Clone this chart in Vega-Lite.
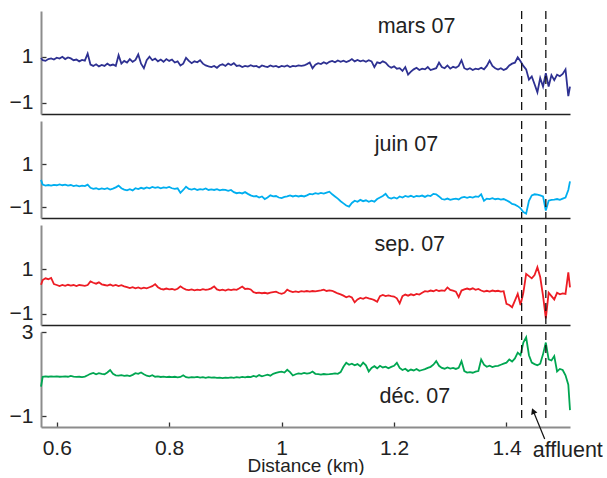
{
"$schema": "https://vega.github.io/schema/vega-lite/v6.json",
"padding": {"left": 9, "top": 10, "right": 0, "bottom": 0},
"bounds": "flush",
"spacing": 7,
"config": {"view": {"stroke": null}, "axis": {"grid": false, "labelFont": "Liberation Sans", "titleFont": "Liberation Sans", "labelColor": "#222", "titleColor": "#222"}, "text": {"font": "Liberation Sans", "color": "#222"}},
"datasets": {"d": [
{"x":0.572,"m":0.95,"j":0.27,"s":0.31,"c":0.41},
{"x":0.575,"m":0.85,"j":0.05,"s":0.52,"c":0.88},
{"x":0.580,"m":0.82,"j":0.0,"s":0.6,"c":0.9},
{"x":0.585,"m":0.9,"j":0.03,"s":0.56,"c":0.88},
{"x":0.590,"m":0.93,"j":0.0,"s":0.62,"c":0.9},
{"x":0.595,"m":0.88,"j":0.04,"s":0.34,"c":0.89},
{"x":0.600,"m":0.96,"j":0.02,"s":0.3,"c":0.9},
{"x":0.605,"m":0.92,"j":0.06,"s":0.25,"c":0.88},
{"x":0.610,"m":1.0,"j":0.02,"s":0.3,"c":0.89},
{"x":0.615,"m":0.9,"j":0.05,"s":0.26,"c":0.9},
{"x":0.620,"m":0.97,"j":0.0,"s":0.31,"c":0.88},
{"x":0.625,"m":0.93,"j":0.03,"s":0.27,"c":0.92},
{"x":0.630,"m":0.85,"j":-0.02,"s":0.3,"c":0.89},
{"x":0.635,"m":0.88,"j":0.01,"s":0.25,"c":0.87},
{"x":0.640,"m":0.8,"j":-0.03,"s":0.3,"c":0.88},
{"x":0.645,"m":0.86,"j":0.0,"s":0.28,"c":0.86},
{"x":0.650,"m":0.83,"j":-0.02,"s":0.26,"c":0.89},
{"x":0.655,"m":1.14,"j":0.05,"s":0.3,"c":0.95},
{"x":0.660,"m":0.66,"j":-0.1,"s":0.46,"c":1.02},
{"x":0.665,"m":0.6,"j":-0.15,"s":0.4,"c":1.06},
{"x":0.670,"m":0.67,"j":-0.12,"s":0.36,"c":1.0},
{"x":0.675,"m":0.58,"j":-0.17,"s":0.42,"c":1.05},
{"x":0.680,"m":0.64,"j":-0.13,"s":0.33,"c":1.02},
{"x":0.685,"m":0.6,"j":-0.16,"s":0.3,"c":1.0},
{"x":0.690,"m":0.7,"j":-0.12,"s":0.27,"c":1.08},
{"x":0.695,"m":0.62,"j":-0.18,"s":0.32,"c":1.2},
{"x":0.700,"m":0.66,"j":-0.14,"s":0.26,"c":1.02},
{"x":0.705,"m":0.6,"j":-0.08,"s":0.3,"c":0.95},
{"x":0.710,"m":1.07,"j":0.0,"s":0.25,"c":0.93},
{"x":0.715,"m":0.7,"j":-0.12,"s":0.29,"c":0.96},
{"x":0.720,"m":0.82,"j":-0.18,"s":0.24,"c":0.92},
{"x":0.725,"m":0.75,"j":-0.22,"s":0.2,"c":0.94},
{"x":0.730,"m":0.9,"j":-0.16,"s":0.16,"c":0.91},
{"x":0.735,"m":0.78,"j":-0.22,"s":0.2,"c":0.97},
{"x":0.740,"m":0.86,"j":-0.12,"s":0.15,"c":1.05},
{"x":0.745,"m":1.1,"j":-0.16,"s":0.19,"c":1.02},
{"x":0.750,"m":0.7,"j":-0.1,"s":0.14,"c":1.08},
{"x":0.755,"m":0.5,"j":-0.14,"s":0.18,"c":1.0},
{"x":0.760,"m":0.85,"j":-0.08,"s":0.15,"c":0.93},
{"x":0.765,"m":1.0,"j":-0.12,"s":0.2,"c":0.9},
{"x":0.770,"m":0.85,"j":-0.06,"s":0.25,"c":0.95},
{"x":0.775,"m":0.92,"j":-0.1,"s":0.34,"c":0.88},
{"x":0.780,"m":0.8,"j":-0.07,"s":0.2,"c":0.9},
{"x":0.785,"m":0.88,"j":-0.12,"s":0.13,"c":0.87},
{"x":0.790,"m":0.78,"j":-0.08,"s":0.1,"c":0.89},
{"x":0.795,"m":0.9,"j":-0.1,"s":0.14,"c":0.86},
{"x":0.800,"m":0.82,"j":-0.06,"s":0.1,"c":0.88},
{"x":0.805,"m":0.88,"j":-0.12,"s":0.12,"c":0.86},
{"x":0.810,"m":0.75,"j":-0.15,"s":0.08,"c":0.88},
{"x":0.815,"m":0.8,"j":-0.12,"s":0.13,"c":0.85},
{"x":0.820,"m":0.62,"j":-0.33,"s":0.24,"c":0.87},
{"x":0.825,"m":0.7,"j":-0.2,"s":0.15,"c":0.95},
{"x":0.830,"m":0.95,"j":-0.05,"s":0.09,"c":0.86},
{"x":0.835,"m":0.82,"j":-0.15,"s":0.07,"c":0.84},
{"x":0.840,"m":0.72,"j":-0.18,"s":0.1,"c":0.86},
{"x":0.845,"m":0.8,"j":-0.14,"s":0.06,"c":0.85},
{"x":0.850,"m":0.76,"j":-0.2,"s":0.09,"c":0.87},
{"x":0.855,"m":0.85,"j":-0.16,"s":0.07,"c":0.84},
{"x":0.860,"m":0.7,"j":-0.18,"s":0.11,"c":0.86},
{"x":0.865,"m":0.62,"j":-0.13,"s":0.08,"c":0.83},
{"x":0.870,"m":0.58,"j":-0.2,"s":0.1,"c":0.86},
{"x":0.875,"m":0.55,"j":-0.17,"s":0.15,"c":0.84},
{"x":0.880,"m":0.6,"j":-0.2,"s":0.24,"c":0.85},
{"x":0.885,"m":0.52,"j":-0.16,"s":0.1,"c":0.83},
{"x":0.890,"m":0.63,"j":-0.22,"s":0.06,"c":0.84},
{"x":0.895,"m":0.67,"j":-0.18,"s":0.09,"c":0.82},
{"x":0.900,"m":0.6,"j":-0.2,"s":0.05,"c":0.84},
{"x":0.905,"m":0.7,"j":-0.24,"s":0.1,"c":0.83},
{"x":0.910,"m":0.64,"j":-0.2,"s":0.07,"c":0.85},
{"x":0.915,"m":0.72,"j":-0.3,"s":0.1,"c":0.83},
{"x":0.920,"m":0.6,"j":-0.35,"s":0.08,"c":0.86},
{"x":0.925,"m":0.62,"j":-0.32,"s":0.15,"c":0.84},
{"x":0.930,"m":0.55,"j":-0.36,"s":0.23,"c":0.87},
{"x":0.935,"m":0.6,"j":-0.3,"s":0.12,"c":0.85},
{"x":0.940,"m":0.57,"j":-0.38,"s":0.14,"c":0.88},
{"x":0.945,"m":0.63,"j":-0.45,"s":0.1,"c":0.86},
{"x":0.950,"m":0.58,"j":-0.5,"s":-0.02,"c":0.92},
{"x":0.955,"m":0.6,"j":-0.48,"s":-0.06,"c":0.88},
{"x":0.960,"m":0.53,"j":-0.55,"s":-0.04,"c":0.96},
{"x":0.965,"m":0.62,"j":-0.5,"s":-0.07,"c":0.9},
{"x":0.970,"m":0.58,"j":-0.62,"s":-0.05,"c":0.94},
{"x":0.975,"m":0.55,"j":-0.55,"s":-0.08,"c":0.98},
{"x":0.980,"m":0.62,"j":-0.45,"s":-0.04,"c":0.93},
{"x":0.985,"m":0.57,"j":-0.5,"s":-0.02,"c":1.02},
{"x":0.990,"m":0.6,"j":-0.48,"s":0.0,"c":1.06},
{"x":0.995,"m":0.54,"j":-0.55,"s":-0.06,"c":1.1},
{"x":1.000,"m":0.6,"j":-0.58,"s":-0.1,"c":1.12},
{"x":1.005,"m":0.57,"j":-0.52,"s":-0.05,"c":1.08},
{"x":1.010,"m":0.62,"j":-0.5,"s":0.09,"c":1.21},
{"x":1.015,"m":0.55,"j":-0.45,"s":0.02,"c":1.1},
{"x":1.020,"m":0.6,"j":-0.5,"s":-0.02,"c":0.94},
{"x":1.025,"m":0.58,"j":-0.46,"s":0.01,"c":1.0},
{"x":1.030,"m":0.62,"j":-0.5,"s":-0.02,"c":1.04},
{"x":1.035,"m":0.6,"j":-0.47,"s":0.02,"c":1.02},
{"x":1.040,"m":0.62,"j":-0.5,"s":0.0,"c":1.06},
{"x":1.045,"m":0.68,"j":-0.45,"s":0.03,"c":1.03},
{"x":1.050,"m":0.75,"j":-0.38,"s":0.0,"c":1.05},
{"x":1.055,"m":0.5,"j":-0.4,"s":0.03,"c":1.13},
{"x":1.060,"m":0.65,"j":-0.35,"s":0.01,"c":1.02},
{"x":1.065,"m":0.72,"j":-0.38,"s":0.04,"c":1.0},
{"x":1.070,"m":0.68,"j":-0.34,"s":0.06,"c":0.98},
{"x":1.075,"m":0.76,"j":-0.37,"s":0.09,"c":1.01},
{"x":1.080,"m":0.7,"j":-0.32,"s":0.03,"c":0.99},
{"x":1.085,"m":0.78,"j":-0.28,"s":0.06,"c":1.0},
{"x":1.090,"m":0.82,"j":-0.4,"s":0.04,"c":1.02},
{"x":1.095,"m":0.76,"j":-0.5,"s":-0.02,"c":1.04},
{"x":1.100,"m":0.84,"j":-0.6,"s":-0.08,"c":1.02},
{"x":1.105,"m":0.78,"j":-0.72,"s":-0.12,"c":1.1},
{"x":1.110,"m":0.83,"j":-0.82,"s":-0.18,"c":1.35},
{"x":1.115,"m":0.77,"j":-0.92,"s":-0.25,"c":1.54},
{"x":1.120,"m":0.82,"j":-0.97,"s":-0.2,"c":1.45},
{"x":1.125,"m":0.9,"j":-0.8,"s":-0.26,"c":1.5},
{"x":1.130,"m":0.8,"j":-0.7,"s":-0.48,"c":1.42},
{"x":1.135,"m":0.86,"j":-0.75,"s":-0.35,"c":1.48},
{"x":1.140,"m":0.8,"j":-0.66,"s":-0.28,"c":1.38},
{"x":1.145,"m":0.84,"j":-0.72,"s":-0.32,"c":1.55},
{"x":1.150,"m":0.78,"j":-0.68,"s":-0.26,"c":1.42},
{"x":1.155,"m":0.85,"j":-0.75,"s":-0.3,"c":1.13},
{"x":1.160,"m":0.8,"j":-0.7,"s":-0.33,"c":1.3},
{"x":1.165,"m":0.55,"j":-0.74,"s":-0.38,"c":1.38},
{"x":1.170,"m":0.76,"j":-0.62,"s":-0.45,"c":1.28},
{"x":1.175,"m":0.72,"j":-0.55,"s":-0.2,"c":1.4},
{"x":1.180,"m":0.8,"j":-0.48,"s":-0.15,"c":1.32},
{"x":1.185,"m":0.74,"j":-0.38,"s":-0.2,"c":1.36},
{"x":1.190,"m":0.6,"j":-0.55,"s":-0.17,"c":1.28},
{"x":1.195,"m":0.52,"j":-0.6,"s":-0.2,"c":1.35},
{"x":1.200,"m":0.58,"j":-0.55,"s":-0.22,"c":1.4},
{"x":1.205,"m":0.48,"j":-0.6,"s":-0.3,"c":1.54},
{"x":1.210,"m":0.5,"j":-0.5,"s":-0.53,"c":1.3},
{"x":1.215,"m":0.38,"j":-0.55,"s":-0.2,"c":1.2},
{"x":1.220,"m":0.55,"j":-0.48,"s":-0.13,"c":1.26},
{"x":1.225,"m":0.22,"j":-0.52,"s":-0.18,"c":1.15},
{"x":1.230,"m":0.35,"j":-0.47,"s":-0.12,"c":1.22},
{"x":1.235,"m":0.45,"j":-0.53,"s":-0.16,"c":1.18},
{"x":1.240,"m":0.52,"j":-0.48,"s":-0.1,"c":1.25},
{"x":1.245,"m":0.42,"j":-0.5,"s":-0.13,"c":1.16},
{"x":1.250,"m":0.48,"j":-0.46,"s":-0.05,"c":1.2},
{"x":1.255,"m":0.45,"j":-0.52,"s":0.02,"c":1.24},
{"x":1.260,"m":0.55,"j":-0.45,"s":0.0,"c":1.3},
{"x":1.265,"m":0.42,"j":-0.48,"s":0.05,"c":1.35},
{"x":1.270,"m":0.46,"j":-0.38,"s":0.02,"c":1.45},
{"x":1.275,"m":0.5,"j":-0.4,"s":0.08,"c":1.62},
{"x":1.280,"m":0.75,"j":-0.5,"s":0.03,"c":1.4},
{"x":1.285,"m":0.55,"j":-0.62,"s":0.06,"c":1.3},
{"x":1.290,"m":0.5,"j":-0.65,"s":0.04,"c":1.26},
{"x":1.295,"m":0.62,"j":-0.6,"s":0.19,"c":1.32},
{"x":1.300,"m":0.48,"j":-0.66,"s":0.08,"c":1.27},
{"x":1.305,"m":0.56,"j":-0.62,"s":0.05,"c":1.3},
{"x":1.310,"m":0.52,"j":-0.6,"s":0.0,"c":1.25},
{"x":1.315,"m":0.6,"j":-0.64,"s":-0.25,"c":1.3},
{"x":1.320,"m":0.85,"j":-0.55,"s":0.05,"c":1.62},
{"x":1.325,"m":0.5,"j":-0.52,"s":0.1,"c":1.15},
{"x":1.330,"m":0.44,"j":-0.56,"s":0.14,"c":1.08},
{"x":1.335,"m":0.5,"j":-0.52,"s":0.1,"c":1.1},
{"x":1.340,"m":0.42,"j":-0.55,"s":0.15,"c":1.07},
{"x":1.345,"m":0.48,"j":-0.5,"s":0.08,"c":1.12},
{"x":1.350,"m":0.45,"j":-0.52,"s":0.12,"c":1.15},
{"x":1.355,"m":0.52,"j":-0.4,"s":0.05,"c":1.7},
{"x":1.360,"m":0.45,"j":-0.7,"s":0.0,"c":1.45},
{"x":1.365,"m":0.6,"j":-0.6,"s":0.04,"c":1.35},
{"x":1.370,"m":0.83,"j":-0.62,"s":0.0,"c":1.4},
{"x":1.375,"m":0.6,"j":-0.58,"s":0.05,"c":1.34},
{"x":1.380,"m":0.5,"j":-0.63,"s":0.02,"c":1.38},
{"x":1.385,"m":0.44,"j":-0.6,"s":0.04,"c":1.4},
{"x":1.390,"m":0.5,"j":-0.65,"s":0.0,"c":1.45},
{"x":1.395,"m":0.42,"j":-0.62,"s":0.02,"c":1.5},
{"x":1.400,"m":0.48,"j":-0.68,"s":-0.55,"c":1.55},
{"x":1.405,"m":0.62,"j":-0.75,"s":-0.6,"c":1.7},
{"x":1.410,"m":0.7,"j":-0.85,"s":-0.7,"c":1.6},
{"x":1.415,"m":0.74,"j":-0.88,"s":-0.4,"c":1.75},
{"x":1.420,"m":0.98,"j":-0.95,"s":-0.1,"c":2.02},
{"x":1.425,"m":0.8,"j":-1.05,"s":-0.6,"c":1.9},
{"x":1.430,"m":0.6,"j":-1.22,"s":-0.05,"c":2.5},
{"x":1.435,"m":0.45,"j":-1.3,"s":0.8,"c":2.75},
{"x":1.440,"m":0.0,"j":-0.7,"s":0.7,"c":1.9},
{"x":1.445,"m":0.14,"j":-0.45,"s":0.6,"c":1.55},
{"x":1.450,"m":-0.2,"j":-0.4,"s":0.75,"c":1.48},
{"x":1.455,"m":-0.55,"j":-0.42,"s":1.1,"c":1.42},
{"x":1.460,"m":0.07,"j":-0.45,"s":0.66,"c":1.5},
{"x":1.465,"m":-0.3,"j":-0.5,"s":-0.18,"c":1.94},
{"x":1.470,"m":0.28,"j":-1.15,"s":-1.2,"c":2.5},
{"x":1.475,"m":-0.3,"j":-0.7,"s":-0.05,"c":1.7},
{"x":1.480,"m":0.2,"j":-0.66,"s":-0.2,"c":1.65},
{"x":1.485,"m":-0.02,"j":-0.65,"s":-0.35,"c":1.86},
{"x":1.490,"m":0.22,"j":-0.62,"s":-0.05,"c":1.13},
{"x":1.495,"m":0.15,"j":-0.66,"s":-0.12,"c":1.25},
{"x":1.500,"m":0.25,"j":-0.6,"s":-0.08,"c":1.2},
{"x":1.505,"m":0.45,"j":-0.55,"s":-0.1,"c":0.95},
{"x":1.510,"m":-0.72,"j":-0.2,"s":0.87,"c":0.5},
{"x":1.513,"m":-0.3,"j":0.2,"s":0.19,"c":-0.7}
]},
"vconcat": [
{"width": 529, "height": 103, "layer": [
 {"data": {"name": "d"}, "mark": {"type": "line", "color": "#2e3192", "strokeWidth": 1.8},
  "encoding": {
   "x": {"field": "x", "type": "quantitative", "scale": {"domain": [0.572, 1.513], "nice": false, "zero": false}, "axis": {"labels": false, "ticks": false, "title": null, "domainColor": "#222", "domainWidth": 1.5}},
   "y": {"field": "m", "type": "quantitative", "scale": {"domain": [-1.5, 3], "nice": false, "zero": false}, "axis": {"values": [-1, 1], "format": "~g", "title": null, "domainColor": "#8c8c8c", "domainWidth": 2, "tickColor": "#333", "tickWidth": 1.3, "tickSize": -5, "labelFontSize": 21, "labelPadding": 13}}}},
 {"data": {"values": [{}]}, "mark": {"type": "rule", "strokeDash": [8, 5], "color": "#111", "strokeWidth": 1.3}, "encoding": {"x": {"datum": 1.427}}},
 {"data": {"values": [{}]}, "mark": {"type": "rule", "strokeDash": [8, 5], "color": "#111", "strokeWidth": 1.3}, "encoding": {"x": {"datum": 1.47}}},
 {"data": {"values": [{}]}, "mark": {"type": "text", "fontSize": 21.5, "align": "center", "baseline": "middle"}, "encoding": {"x": {"datum": 1.24}, "y": {"datum": 2.3}, "text": {"value": "mars 07"}}}
]},
{"width": 529, "height": 97, "layer": [
 {"data": {"name": "d"}, "mark": {"type": "line", "color": "#00aeef", "strokeWidth": 1.8},
  "encoding": {
   "x": {"field": "x", "type": "quantitative", "scale": {"domain": [0.572, 1.513], "nice": false, "zero": false}, "axis": {"labels": false, "ticks": false, "title": null, "domainColor": "#222", "domainWidth": 1.5}},
   "y": {"field": "j", "type": "quantitative", "scale": {"domain": [-1.5, 3], "nice": false, "zero": false}, "axis": {"values": [-1, 1], "format": "~g", "title": null, "domainColor": "#8c8c8c", "domainWidth": 2, "tickColor": "#333", "tickWidth": 1.3, "tickSize": -5, "labelFontSize": 21, "labelPadding": 13}}}},
 {"data": {"values": [{}]}, "mark": {"type": "rule", "strokeDash": [8, 5], "color": "#111", "strokeWidth": 1.3}, "encoding": {"x": {"datum": 1.427}}},
 {"data": {"values": [{}]}, "mark": {"type": "rule", "strokeDash": [8, 5], "color": "#111", "strokeWidth": 1.3}, "encoding": {"x": {"datum": 1.47}}},
 {"data": {"values": [{}]}, "mark": {"type": "text", "fontSize": 21.5, "align": "center", "baseline": "middle"}, "encoding": {"x": {"datum": 1.222}, "y": {"datum": 1.88}, "text": {"value": "juin 07"}}}
]},
{"width": 529, "height": 100, "layer": [
 {"data": {"name": "d"}, "mark": {"type": "line", "color": "#ed1c24", "strokeWidth": 1.8},
  "encoding": {
   "x": {"field": "x", "type": "quantitative", "scale": {"domain": [0.572, 1.513], "nice": false, "zero": false}, "axis": {"labels": false, "ticks": false, "title": null, "domainColor": "#222", "domainWidth": 1.5}},
   "y": {"field": "s", "type": "quantitative", "scale": {"domain": [-1.5, 3], "nice": false, "zero": false}, "axis": {"values": [-1, 1], "format": "~g", "title": null, "domainColor": "#8c8c8c", "domainWidth": 2, "tickColor": "#333", "tickWidth": 1.3, "tickSize": -5, "labelFontSize": 21, "labelPadding": 13}}}},
 {"data": {"values": [{}]}, "mark": {"type": "rule", "strokeDash": [8, 5], "color": "#111", "strokeWidth": 1.3}, "encoding": {"x": {"datum": 1.427}}},
 {"data": {"values": [{}]}, "mark": {"type": "rule", "strokeDash": [8, 5], "color": "#111", "strokeWidth": 1.3}, "encoding": {"x": {"datum": 1.47}}},
 {"data": {"values": [{}]}, "mark": {"type": "text", "fontSize": 21.5, "align": "center", "baseline": "middle"}, "encoding": {"x": {"datum": 1.228}, "y": {"datum": 2.08}, "text": {"value": "sep. 07"}}}
]},
{"width": 529, "height": 95, "layer": [
 {"data": {"name": "d"}, "mark": {"type": "line", "color": "#00a651", "strokeWidth": 1.8},
  "encoding": {
   "x": {"field": "x", "type": "quantitative", "scale": {"domain": [0.572, 1.513], "nice": false, "zero": false}, "axis": {"values": [0.6, 0.8, 1, 1.2, 1.4], "format": "~g", "title": "Distance (km)", "domainColor": "#8c8c8c", "domainWidth": 2, "tickColor": "#333", "tickWidth": 1.3, "tickSize": -5, "labelFontSize": 21, "labelPadding": 15, "titleFontSize": 19, "titleFontWeight": "normal", "titlePadding": -2}},
   "y": {"field": "c", "type": "quantitative", "scale": {"domain": [-1.5, 3], "nice": false, "zero": false}, "axis": {"values": [-1, 3], "format": "~g", "title": null, "domainColor": "#8c8c8c", "domainWidth": 2, "tickColor": "#333", "tickWidth": 1.3, "tickSize": -5, "labelFontSize": 21, "labelPadding": 13}}}},
 {"data": {"values": [{}]}, "mark": {"type": "rule", "strokeDash": [8, 5], "color": "#111", "strokeWidth": 1.3}, "encoding": {"x": {"datum": 1.427}, "y": {"datum": 3}, "y2": {"datum": -1.1}}},
 {"data": {"values": [{}]}, "mark": {"type": "rule", "strokeDash": [8, 5], "color": "#111", "strokeWidth": 1.3}, "encoding": {"x": {"datum": 1.47}, "y": {"datum": 3}, "y2": {"datum": -1.1}}},
 {"data": {"values": [{}]}, "mark": {"type": "text", "fontSize": 21.5, "align": "center", "baseline": "middle"}, "encoding": {"x": {"datum": 1.237}, "y": {"datum": -0.08}, "text": {"value": "déc. 07"}}},
 {"data": {"values": [{}]}, "mark": {"type": "rule", "color": "#111", "strokeWidth": 1.2}, "encoding": {"x": {"datum": 1.468}, "y": {"datum": -2.07}, "x2": {"datum": 1.4478}, "y2": {"datum": -0.75}}},
 {"data": {"values": [{}]}, "mark": {"type": "point", "shape": "triangle-up", "filled": true, "color": "#111", "size": 45, "angle": -22, "opacity": 1}, "encoding": {"x": {"datum": 1.4475}, "y": {"datum": -0.74}}},
 {"data": {"values": [{}]}, "mark": {"type": "text", "fontSize": 21.5, "align": "center", "baseline": "middle"}, "encoding": {"x": {"datum": 1.509}, "y": {"datum": -2.64}, "text": {"value": "affluent"}}}
]}
]
}
